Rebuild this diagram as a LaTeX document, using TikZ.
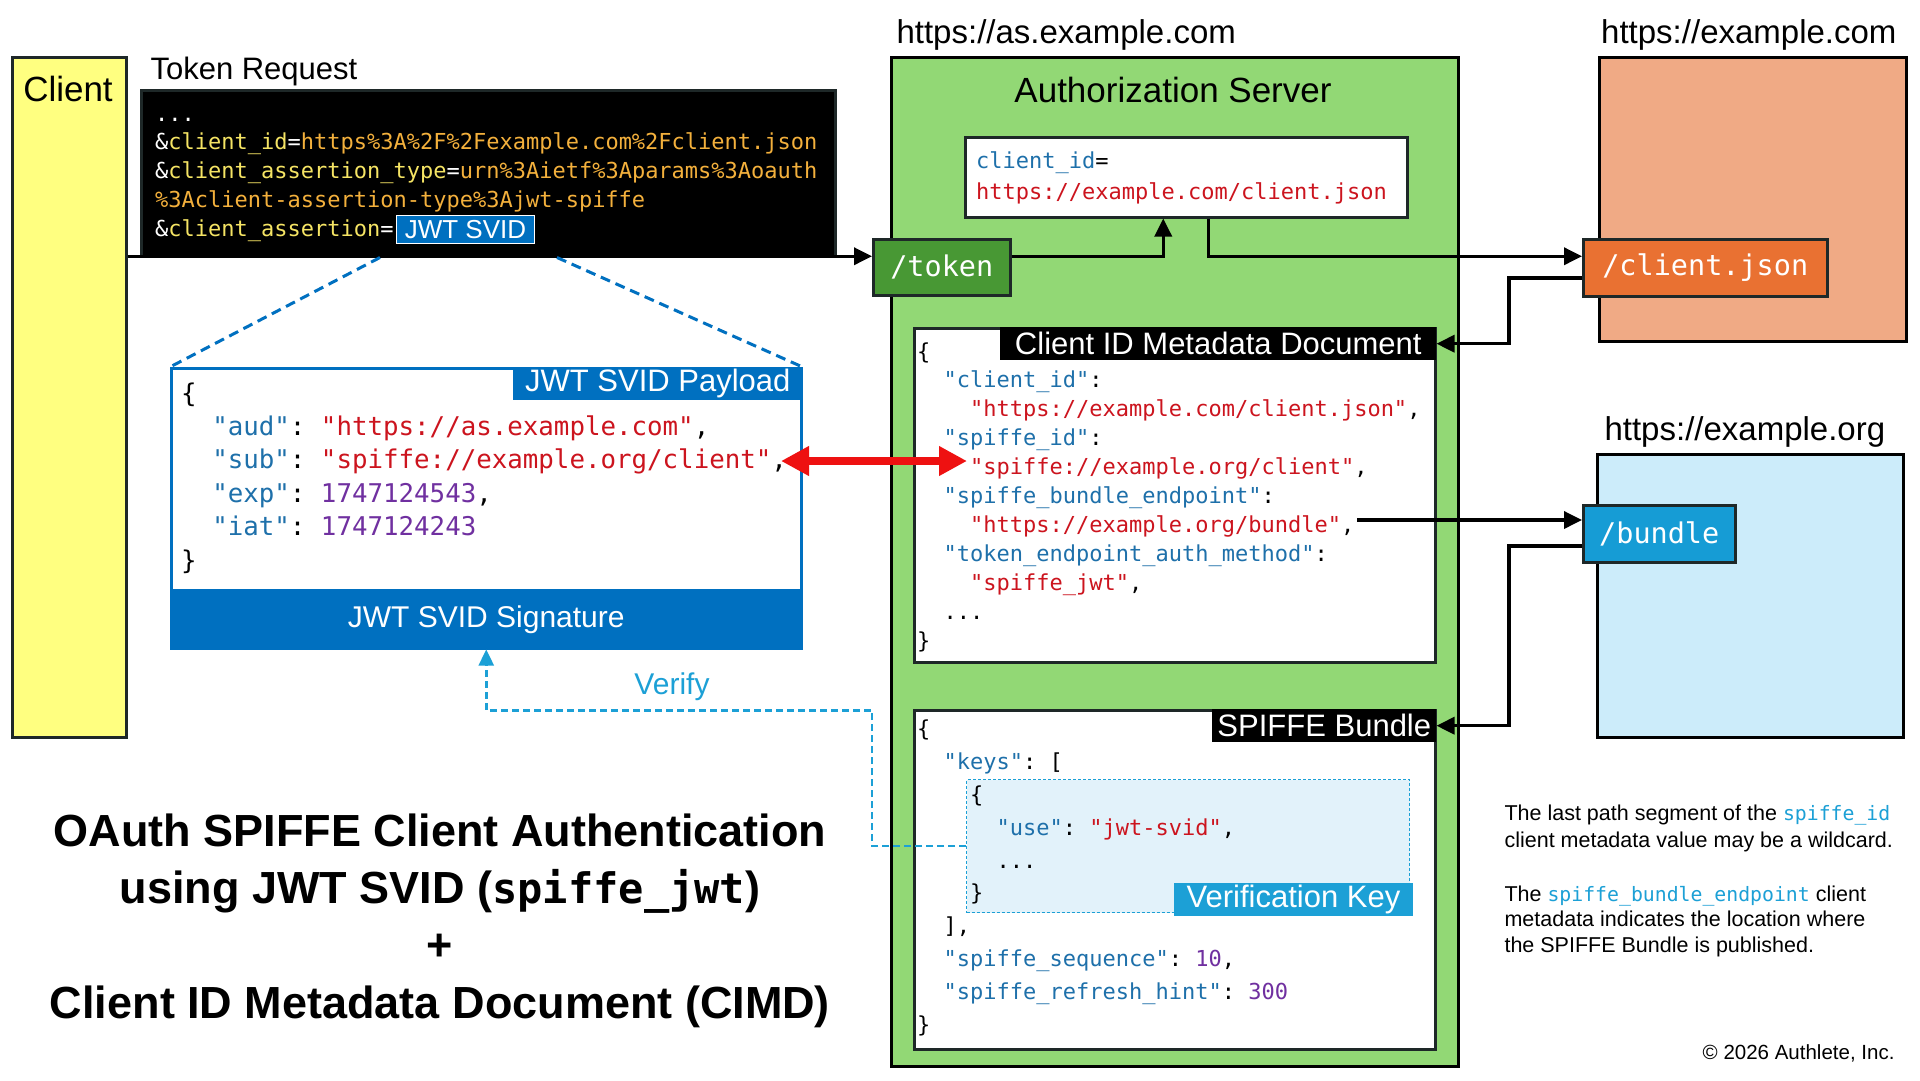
\documentclass[tikz,border=0pt]{standalone}
\usepackage{fontspec}
\setmainfont{Liberation Sans}
\setmonofont{DejaVu Sans Mono}
\usetikzlibrary{arrows.meta,positioning,calc}
\definecolor{ClientYellow}{RGB}{255,255,128}
\definecolor{ServerGreen}{RGB}{146,216,117}
\definecolor{TokenGreen}{RGB}{72,152,52}
\definecolor{ComOrange}{RGB}{240,170,133}
\definecolor{JsonOrange}{RGB}{233,113,50}
\definecolor{OrgBlue}{RGB}{204,236,250}
\definecolor{BundleBlue}{RGB}{22,156,213}
\definecolor{SvidBlue}{RGB}{0,112,192}
\definecolor{KeyBlue}{RGB}{226,242,250}
\definecolor{VerifyBlue}{RGB}{28,160,214}
\definecolor{JsonKey}{RGB}{30,112,170}
\definecolor{JsonStr}{RGB}{204,20,30}
\definecolor{JsonNum}{RGB}{112,48,160}
\definecolor{ReqKey}{RGB}{245,228,100}
\definecolor{ReqVal}{RGB}{243,176,60}
\definecolor{EdgeDark}{RGB}{30,40,40}
\definecolor{ArrowRed}{RGB}{238,17,17}

\newcommand\fsz[2]{\fontsize{#1}{#2}\selectfont}
\newcommand\rk[1]{\textcolor{ReqKey}{#1}}
\newcommand\rv[1]{\textcolor{ReqVal}{#1}}
\newcommand\jk[1]{\textcolor{JsonKey}{"#1"}}
\newcommand\js[1]{\textcolor{JsonStr}{"#1"}}
\newcommand\jn[1]{\textcolor{JsonNum}{#1}}
\newcommand\pad[1]{\phantom{#1}}
\newcommand\notecode[1]{{\ttfamily\fsz{19.8}{26}\textcolor{VerifyBlue}{#1}}}

\begin{document}
\begin{tikzpicture}[x=1pt, y=-1pt,
  box/.style={draw=EdgeDark, line width=2.5pt, anchor=north west, inner sep=0pt},
  hostbox/.style={box, draw=black, line width=3pt},
  tag/.style={anchor=north east, inner sep=0pt, text=white, font=\fsz{31}{36}, minimum height=33},
  endpoint/.style={box, text=white, font=\ttfamily\fsz{28.5}{33}, minimum height=57},
  code/.style={anchor=base west, align=left, inner sep=0pt},
  url/.style={anchor=base west, font=\fsz{33}{38}},
  arr/.style={-{Triangle[length=18pt,width=17pt]}, line width=3.5pt},
  redarr/.style={{Triangle[length=28pt,width=28pt]}-{Triangle[length=28pt,width=28pt]}, line width=8pt, draw=ArrowRed, fill=ArrowRed},
  svidline/.style={draw=SvidBlue, line width=3pt, dash pattern=on 10pt off 6pt},
  verifyline/.style={draw=VerifyBlue, line width=2.5pt, dash pattern=on 7pt off 4pt, -{Triangle[length=16pt,width=15pt]}},
  note/.style={anchor=base west, align=left, font=\fsz{21.5}{27}}
]
\useasboundingbox (0,0) rectangle (1920,1080);
\fill[white] (0,0) rectangle (1920,1080);

% client and its token request (code nodes sit on the baseline of their last line)
\node[box, fill=ClientYellow, minimum width=114, minimum height=680] (client) at (11,56) {};
\node[anchor=base, font=\fsz{35}{40}] (clientlbl) at (68,101) {Client};
\node[anchor=base west, font=\fsz{31}{36}] (reqlbl) at (147,79) {Token Request};
\node[box, fill=black, minimum width=694, minimum height=166] (req) at (140,89) {};
\node[code, text=white, font=\ttfamily\fsz{22}{28.7}] (reqtxt) at (155,236) {...\\
  \&\rk{client\_id}=\rv{https\%3A\%2F\%2Fexample.com\%2Fclient.json}\\
  \&\rk{client\_assertion\_type}=\rv{urn\%3Aietf\%3Aparams\%3Aoauth}\\
  \rv{\%3Aclient-assertion-type\%3Ajwt-spiffe}\\
  \&\rk{client\_assertion}=};
\node[box, draw=white, line width=1pt, fill=SvidBlue, text=white, font=\fsz{26}{30},
      minimum width=138, minimum height=28] (svidtag) at (396,215) {JWT SVID};

% authorization server
\node[url] (aslbl) at (893,43) {https://as.example.com};
\node[hostbox, fill=ServerGreen, minimum width=567, minimum height=1009] (as) at (890,56) {};
\node[anchor=base, font=\fsz{35}{40}] (astitle) at (1173,102) {Authorization Server};
\node[box, fill=white, minimum width=442, minimum height=80] (cidbox) at (964,136) {};
\node[code, font=\ttfamily\fsz{22}{31}] (cidtxt) at (976,199) {\textcolor{JsonKey}{client\_id}=\\
  \textcolor{JsonStr}{https://example.com/client.json}};

% client metadata document
\node[box, fill=white, minimum width=521, minimum height=334] (cimd) at (913,327) {};
\node[tag, fill=black, minimum width=436] (cimdtitle) at (cimd.north east) {Client ID Metadata Document};
\node[code, font=\ttfamily\fsz{22}{28.9}] (cimdtxt) at (917,648) {\{\\
  \pad{00}\jk{client\_id}:\\
  \pad{0000}\js{https://example.com/client.json},\\
  \pad{00}\jk{spiffe\_id}:\\
  \pad{0000}\js{spiffe://example.org/client},\\
  \pad{00}\jk{spiffe\_bundle\_endpoint}:\\
  \pad{0000}\js{https://example.org/bundle},\\
  \pad{00}\jk{token\_endpoint\_auth\_method}:\\
  \pad{0000}\js{spiffe\_jwt},\\
  \pad{00}...\\
  \}};

% spiffe bundle
\node[box, fill=white, minimum width=521, minimum height=339] (bundledoc) at (913,709) {};
\node[tag, fill=black, minimum width=224] (bundletitle) at (bundledoc.north east) {SPIFFE Bundle};
\node[anchor=north west, inner sep=0pt, draw=VerifyBlue, line width=1.2pt, densely dashed,
      fill=KeyBlue, minimum width=443, minimum height=133] (vkey) at (966,779) {};
\node[tag, anchor=south east, fill=VerifyBlue, minimum width=239] (vkeylbl)
      at ([xshift=3pt,yshift=-3pt]vkey.south east) {Verification Key};
\node[code, font=\ttfamily\fsz{22}{32.8}] (bundletxt) at (917,1032) {\{\\
  \pad{00}\jk{keys}: [\\
  \pad{0000}\{\\
  \pad{000000}\jk{use}: \js{jwt-svid},\\
  \pad{000000}...\\
  \pad{0000}\}\\
  \pad{00}],\\
  \pad{00}\jk{spiffe\_sequence}: \jn{10},\\
  \pad{00}\jk{spiffe\_refresh\_hint}: \jn{300}\\
  \}};

% JWT SVID
\node[box, draw=SvidBlue, fill=white, minimum width=630, minimum height=280] (payload) at (170,367) {};
\node[box, anchor=south west, draw=SvidBlue, fill=SvidBlue, text=white, font=\fsz{30}{34},
      minimum width=630, minimum height=58] (sig) at (payload.south west) {JWT SVID Signature};
\node[tag, fill=SvidBlue, minimum width=289] (paylbl) at (payload.north east) {JWT SVID Payload};
\node[code, font=\ttfamily\fsz{25.8}{33.4}] (paytxt) at (181,569) {\{\\
  \pad{00}\jk{aud}: \js{https://as.example.com},\\
  \pad{00}\jk{sub}: \js{spiffe://example.org/client},\\
  \pad{00}\jk{exp}: \jn{1747124543},\\
  \pad{00}\jk{iat}: \jn{1747124243}\\
  \}};

% hosts on the right
\node[url, anchor=base east] (comlbl) at (1900,43) {https://example.com};
\node[hostbox, fill=ComOrange, minimum width=307, minimum height=284] (com) at (1598,56) {};
\node[endpoint, fill=JsonOrange, minimum width=244] (cjson) at (1582,238) {/client.json};
\node[url] (orglbl) at (1601,440) {https://example.org};
\node[hostbox, fill=OrgBlue, minimum width=306, minimum height=283] (org) at (1596,453) {};
\node[endpoint, fill=BundleBlue, minimum width=152] (bundle) at (1582,504) {/bundle};
\node[endpoint, fill=TokenGreen, minimum width=137, minimum height=56] (token) at (872,238) {/token};

% connectors
\coordinate (tokin) at ([yshift=11pt]token.west);
\coordinate (cidin) at ([xshift=-23pt]cidbox.south);
\coordinate (cidout) at ([xshift=22pt]cidbox.south);
\coordinate (cjsonout) at ([yshift=-10pt]cjson.west);
\coordinate (bundleout) at ([yshift=-12pt]bundle.west);
\coordinate (bundleref) at (1357,520);
\coordinate (subref) at (781,461);
\coordinate (spidref) at (967,461);

\draw[arr] (tokin -| client.east) -- (tokin);
\draw[arr] (tokin -| token.east) -| (cidin);
\draw[arr] (cidout) |- (tokin -| cjson.west);
\draw[arr] (cjsonout) -- ++(-73,0) |- (cimdtitle.east);
\draw[arr] (bundleref) -- (bundleref -| bundle.west);
\draw[arr] (bundleout) -- ++(-73,0) |- (bundletitle.east);
\draw[redarr] (subref) -- (spidref);
\draw[svidline] ([xshift=240pt]req.south west) -- (payload.north west);
\draw[svidline] ([xshift=417pt]req.south west) -- (payload.north east);
\draw[verifyline] (vkey.west) -- ++(-94,0) |- ($(sig.south)+(0,61)$) -- (sig.south);
\node[anchor=base, text=VerifyBlue, font=\fsz{30}{34}] (verifylbl) at (672,694) {Verify};

% notes and title
\node[note] (note1) at (1501,847) {The last path segment of the \notecode{spiffe\_id}\\
  client metadata value may be a wildcard.};
\node[note, font=\fsz{21.5}{25.5}] (note2) at (1501,952) {The \notecode{spiffe\_bundle\_endpoint} client\\
  metadata indicates the location where\\
  the SPIFFE Bundle is published.};
\node[anchor=base east, font=\fsz{20.5}{24}] (copyr) at (1898,1059) {\textcopyright{} 2026 Authlete, Inc.};
\node[anchor=base, align=center, font=\bfseries\fsz{45}{57.3}] (title) at (440,1018) {OAuth SPIFFE Client Authentication\\
  using JWT SVID ({\ttfamily\fsz{42}{57.3}spiffe\_jwt})\\
  +\\
  Client ID Metadata Document (CIMD)};
\end{tikzpicture}
\end{document}
